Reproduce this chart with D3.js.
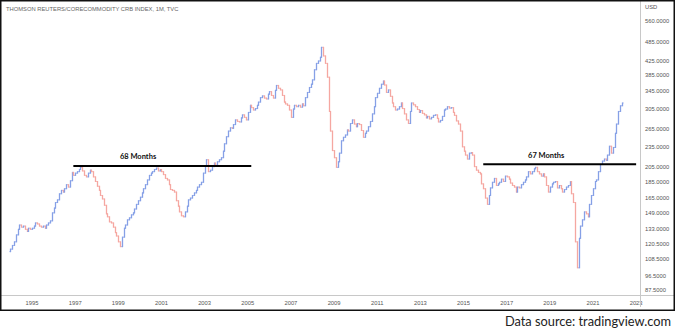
<!DOCTYPE html>
<html>
<head>
<meta charset="utf-8">
<script src="https://cdn.jsdelivr.net/npm/d3@7/dist/d3.min.js"></script>
<style>
  html, body { margin: 0; padding: 0; background: #fff; }
  svg { display: block; }
</style>
</head>
<body>
<svg id="chart" width="675" height="331"></svg>
<script>
// Thomson Reuters/CoreCommodity CRB Index, monthly closes from Jan 1994.
const startYear = 1994;
const closes = [
  116, 119, 122, 128, 133, 137, 135, 136, 133, 131, 134, 133, // 1994
  134, 136, 139, 138, 136, 135, 136, 134, 137, 139, 141, 149, // 1995
  154, 160, 163, 170, 174, 172, 176, 181, 178, 186, 197, 193, // 1996
  196, 198, 201, 204, 199, 193, 191, 196, 200, 198, 191, 185, // 1997
  179, 174, 168, 164, 157, 148, 145, 140, 139, 135, 130, 127, // 1998
  122, 118, 126, 134, 137, 142, 144, 147, 149, 153, 158, 162, // 1999
  166, 171, 176, 181, 187, 193, 196, 198, 201, 203, 199, 201, // 2000
  198, 194, 189, 187, 181, 175, 174, 172, 162, 156, 150, 146, // 2001
  145, 150, 156, 163, 165, 168, 171, 174, 178, 181, 184, 196, // 2002
  206, 215, 198, 200, 205, 210, 207, 212, 215, 218, 228, 240, // 2003
  252, 262, 268, 267, 274, 283, 280, 279, 287, 293, 288, 283, // 2004
  298, 313, 308, 303, 306, 313, 320, 330, 334, 329, 327, 338, // 2005
  344, 335, 329, 347, 359, 352, 348, 335, 320, 316, 313, 303, // 2006
  288, 305, 313, 310, 313, 309, 316, 312, 330, 342, 354, 362, // 2007
  373, 400, 418, 425, 436, 467, 440, 418, 380, 300, 262, 229, // 2008
  218, 204, 212, 225, 245, 251, 255, 264, 262, 276, 283, 275, // 2009
  270, 276, 274, 263, 251, 258, 262, 270, 280, 295, 310, 330, // 2010
  340, 352, 362, 370, 360, 342, 348, 333, 318, 310, 303, 305, // 2011
  310, 318, 306, 295, 283, 276, 300, 318, 314, 310, 304, 298, // 2012
  302, 296, 293, 287, 290, 285, 288, 292, 293, 286, 279, 282, // 2013
  290, 303, 305, 310, 307, 308, 298, 292, 281, 275, 262, 235, // 2014
  228, 222, 216, 225, 226, 222, 205, 200, 197, 195, 182, 176, // 2015
  165, 158, 168, 177, 184, 189, 180, 182, 184, 188, 185, 192, // 2016
  191, 188, 183, 180, 178, 172, 178, 177, 181, 184, 187, 191, // 2017
  198, 195, 198, 202, 204, 198, 195, 192, 195, 191, 180, 172, // 2018
  178, 182, 184, 185, 177, 180, 176, 172, 175, 178, 180, 185, // 2019
  170, 160, 122, 102, 125, 136, 142, 150, 148, 145, 158, 168, // 2020
  176, 185, 187, 198, 208, 213, 216, 214, 222, 236, 225, 234, // 2021
  258, 275, 300, 312, 318                                     // 2022
];
const firstOpen = 114;

// Price axis labels and year labels.
const priceTicks = [560, 485, 425, 385, 345, 305, 265, 235, 205, 185, 165, 149, 133, 120.5, 108.5, 96.5, 87.5];
const yearTicks = [1995, 1997, 1999, 2001, 2003, 2005, 2007, 2009, 2011, 2013, 2015, 2017, 2019, 2021, 2023];

// Horizontal consolidation levels drawn on the chart.
const rangeLabels = ["68 Months", "67 Months"];
const rangeLevels = [206, 208.5];
const rangeStarts = [[1996, 11], [2015, 11]];   // [year, monthIndex]
const rangeEnds = [[2005, 2], [2023, 0]];
const rangeLabelAt = [[1999, 11], [2018, 10]];

const titleText = "THOMSON REUTERS/CORECOMMODITY CRB INDEX, 1M, TVC";
const currency = "USD";
const sourceText = "Data source: tradingview.com";

// ---- build OHLC-style bars (open = previous close)
const bars = closes.map((c, i) => {
  const o = i === 0 ? firstOpen : closes[i - 1];
  return { date: new Date(startYear, i, 1), open: o, close: c };
});

const svg = d3.select("#chart");
const W = 675, H = 331;
const paneRight = 640, axisY = 295, frameBottom = 310;

const x = d3.scaleTime()
  .domain([new Date(1995, 0, 1), new Date(2021, 0, 1)])
  .range([32, 593]);
const y = d3.scaleLog()
  .domain([87.5, 560])
  .range([290, 21]);

const upColor = "#86a0e6", downColor = "#f5a7a1";

const plot = svg.append("g");
plot.append("defs").append("clipPath").attr("id", "pane")
  .append("rect").attr("x", 0).attr("y", 0).attr("width", paneRight).attr("height", axisY);

const barG = plot.append("g").attr("clip-path", "url(#pane)");
barG.selectAll("g.bar").data(bars).join("g").attr("class", "bar")
  .each(function (d) {
    const g = d3.select(this);
    const cx = Math.round(x(d.date)) + 0.5;
    const col = d.close >= d.open ? upColor : downColor;
    const hi = Math.max(d.open, d.close), lo = Math.min(d.open, d.close);
    g.append("line")
      .attr("x1", cx).attr("x2", cx)
      .attr("y1", y(hi) - 0.5).attr("y2", y(lo) + 0.5)
      .attr("stroke", col).attr("stroke-width", 1.3);
    g.append("line")
      .attr("x1", cx - 1).attr("x2", cx)
      .attr("y1", y(d.open)).attr("y2", y(d.open))
      .attr("stroke", col).attr("stroke-width", 1);
    g.append("line")
      .attr("x1", cx).attr("x2", cx + 1)
      .attr("y1", y(d.close)).attr("y2", y(d.close))
      .attr("stroke", col).attr("stroke-width", 1);
  });

// ---- consolidation lines with labels
rangeLabels.forEach((lab, i) => {
  const yy = y(rangeLevels[i]);
  const x1 = x(new Date(rangeStarts[i][0], rangeStarts[i][1], 1));
  const x2 = x(new Date(rangeEnds[i][0], rangeEnds[i][1], 1));
  barG.append("line")
    .attr("x1", x1).attr("x2", x2).attr("y1", yy).attr("y2", yy)
    .attr("stroke", "#000").attr("stroke-width", 2);
  barG.append("text")
    .attr("x", x(new Date(rangeLabelAt[i][0], rangeLabelAt[i][1], 1)))
    .attr("y", yy - 6.5)
    .attr("text-anchor", "middle")
    .attr("font-family", "Lato, 'Open Sans', sans-serif")
    .attr("font-weight", "bold")
    .attr("font-size", 7.5)
    .attr("fill", "#111")
    .text(lab);
});

// ---- time axis
const xAxis = svg.append("g");
xAxis.append("line")
  .attr("x1", 0).attr("x2", W).attr("y1", axisY + 0.5).attr("y2", axisY + 0.5)
  .attr("stroke", "#c8c8c8").attr("stroke-width", 1);
xAxis.selectAll("text").data(yearTicks).join("text")
  .attr("x", d => x(new Date(d, 0, 1)))
  .attr("y", 305)
  .attr("text-anchor", "middle")
  .attr("font-family", "'Liberation Sans', Arial, sans-serif")
  .attr("font-size", 5.8)
  .attr("fill", "#555")
  .text(d => d);

// ---- price scale pane
svg.append("rect")
  .attr("x", paneRight + 0.5).attr("y", 0).attr("width", W - paneRight).attr("height", axisY)
  .attr("fill", "#fff");
svg.append("line")
  .attr("x1", paneRight + 0.5).attr("x2", paneRight + 0.5).attr("y1", 0).attr("y2", 307)
  .attr("stroke", "#c8c8c8").attr("stroke-width", 1);
svg.append("g").selectAll("text").data(priceTicks).join("text")
  .attr("x", 645)
  .attr("y", d => y(d) + 2)
  .attr("font-family", "'Liberation Sans', Arial, sans-serif")
  .attr("font-size", 5.8)
  .attr("fill", "#555")
  .text(d => d3.format(".4f")(d));
svg.append("text")
  .attr("x", 645).attr("y", 9)
  .attr("font-family", "'Liberation Sans', Arial, sans-serif")
  .attr("font-size", 5.8)
  .attr("fill", "#555")
  .text(currency);

// ---- title
svg.append("text")
  .attr("x", 6).attr("y", 11)
  .attr("font-family", "'Liberation Sans', Arial, sans-serif")
  .attr("font-size", 5.8)
  .attr("fill", "#666")
  .text(titleText);

// ---- frame
svg.append("rect")
  .attr("x", 0.75).attr("y", 0.75).attr("width", W - 1.5).attr("height", frameBottom - 0.5)
  .attr("fill", "none").attr("stroke", "#111").attr("stroke-width", 1.5);

// ---- source note
svg.append("text")
  .attr("x", 671).attr("y", 326)
  .attr("text-anchor", "end")
  .attr("font-family", "Lato, 'Open Sans', sans-serif")
  .attr("font-size", 12.8)
  .attr("fill", "#222")
  .text(sourceText);
</script>
</body>
</html>
